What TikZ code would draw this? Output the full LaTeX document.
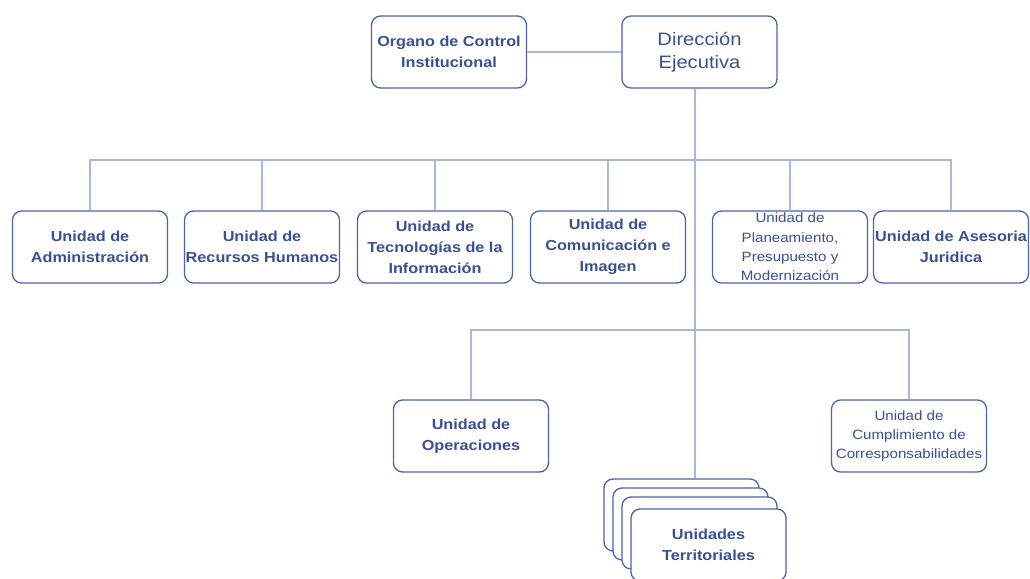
\documentclass[tikz,border=0pt]{standalone}
\usepackage{fontspec}
\setmainfont{Liberation Sans}
\newfontfamily\widefont[FakeStretch=1.12]{Liberation Sans}
\definecolor{txt}{HTML}{3A5191}
\definecolor{bord}{HTML}{4A64A6}
\definecolor{conn}{HTML}{A9B7D9}
\tikzset{
  unit/.style={draw=bord, line width=1.3pt, rounded corners=9pt, fill=white,
    minimum width=155pt, minimum height=72pt, align=center, text=txt,
    font=\widefont\fontsize{14.5}{21}\selectfont\bfseries, inner sep=0pt},
  small/.style={font=\widefont\fontsize{13.5}{19.3}\selectfont},
  big/.style={font=\widefont\fontsize{18}{23}\selectfont},
  link/.style={draw=conn, line width=1.3pt}
}
\begin{document}
\begin{tikzpicture}[x=1pt,y=-1pt]
\useasboundingbox (0,0) rectangle (1030,578);
\node[unit] (org) at (449,52) {Organo de Control\\Institucional};
\node[unit,big] (dir) at (699.5,52) {Dirección\\Ejecutiva};

\node[unit] (adm) at (90,247) {Unidad de\\Administración};
\node[unit] (rh) at (262,247) {Unidad de\\Recursos Humanos};
\node[unit] (tec) at (435,247) {Unidad de\\Tecnologías de la\\Información};
\node[unit] (com) at (608,247) {Unidad de\\Comunicación e\\Imagen};
\node[unit,small] (pla) at (790,247) {Unidad de\\Planeamiento,\\Presupuesto y\\Modernización};
\node[unit] (asj) at (951,247) {Unidad de Asesoria\\Juridica};

\node[unit] (ope) at (471,436) {Unidad de\\Operaciones};
\node[unit,small] (cum) at (909,436) {Unidad de\\Cumplimiento de\\Corresponsabilidades};

\coordinate (bus) at (695,160);
\coordinate (bus2) at (695,330);

\draw[link] (org.east) -- (dir.west);
\draw[link] (adm.north) |- (bus) -| (asj.north);
\draw[link] (rh.north) -- (rh.north |- bus);
\draw[link] (tec.north) -- (tec.north |- bus);
\draw[link] (com.north) -- (com.north |- bus);
\draw[link] (pla.north) -- (pla.north |- bus);
\draw[link] (ope.north) |- (bus2) -| (cum.north);

\node[unit] (st1) at (681.5,515) {};
\node[unit] (st2) at (690.5,524) {};
\node[unit] (st3) at (699.5,533) {};
\node[unit] (st4) at (708.5,545) {Unidades\\Territoriales};

\draw[link] (dir.south -| bus) -- (bus |- st1.north);
\end{tikzpicture}
\end{document}
